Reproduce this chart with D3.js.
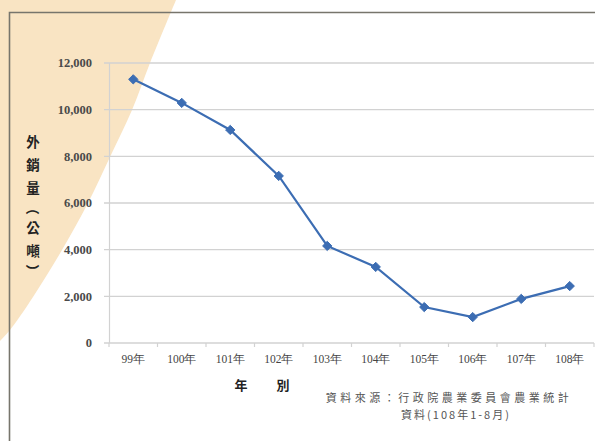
<!DOCTYPE html>
<html lang="zh-Hant">
<head>
<meta charset="UTF-8">
<title>外銷量</title>
<script src="https://d3js.org/d3.v7.min.js"></script>
<style>
  body { margin: 0; background: #fff; }
  svg { display: block; }
</style>
</head>
<body>
<svg width="595" height="441"></svg>
<script>
// data
const years = ["99年", "100年", "101年", "102年", "103年", "104年", "105年", "106年", "107年", "108年"];
const exportTons = [11300, 10290, 9130, 7160, 4160, 3260, 1540, 1110, 1890, 2440];
const yTicks = [0, 2000, 4000, 6000, 8000, 10000, 12000];
const yTitle = "外銷量（公噸）";
const xTitle = ["年", "別"];
const sourceLines = ["資料來源：行政院農業委員會農業統計", "資料(108年1-8月)"];

const svg = d3.select("svg");
const serif = "'Liberation Serif', 'DejaVu Serif', serif";
const cjk = "'Noto Sans CJK TC', 'Noto Sans CJK SC', sans-serif";

// beige corner decoration (curved edge)
const edge = [[0, 0], [176, 0], [150, 63], [132, 110], [110, 157], [88, 203], [62, 250], [33, 297], [10, 330], [0, 341]];
svg.append("path")
  .attr("d", "M0,0 " + d3.line().curve(d3.curveCatmullRom)(edge.slice(1)).replace(/^M/, "L") + " Z")
  .attr("fill", "#f9e4c3");

// frame lines (top + left)
svg.append("path")
  .attr("d", "M9.5,441 L9.5,12.5 L595,12.5")
  .attr("fill", "none")
  .attr("stroke", "#77756c")
  .attr("stroke-width", 1.6);

const x = d3.scaleBand().domain(years).range([109, 594]);
const y = d3.scaleLinear().domain([0, 12000]).range([343, 63]);

// gridlines
svg.append("g")
  .selectAll("line")
  .data(yTicks)
  .join("line")
  .attr("x1", 104)
  .attr("x2", 594)
  .attr("y1", d => y(d))
  .attr("y2", d => y(d))
  .attr("stroke", "#d2d2d2")
  .attr("stroke-width", 1.3);

// y axis line
svg.append("line")
  .attr("x1", 109.5).attr("x2", 109.5)
  .attr("y1", y(12000)).attr("y2", y(0))
  .attr("stroke", "#d2d2d2")
  .attr("stroke-width", 1.2);

// y tick labels
svg.append("g")
  .selectAll("text")
  .data(yTicks)
  .join("text")
  .attr("x", 92)
  .attr("y", d => y(d))
  .attr("dy", "0.35em")
  .attr("text-anchor", "end")
  .attr("font-family", serif)
  .attr("font-size", 12.5)
  .attr("font-weight", "bold")
  .attr("fill", "#4a4a4a")
  .text(d => d3.format(",")(d));

// x axis ticks between categories
svg.append("g")
  .selectAll("line")
  .data(years.concat(["end"]))
  .join("line")
  .attr("x1", (d, i) => x.range()[0] + i * x.step())
  .attr("x2", (d, i) => x.range()[0] + i * x.step())
  .attr("y1", y(0))
  .attr("y2", y(0) + 4)
  .attr("stroke", "#d2d2d2")
  .attr("stroke-width", 1.2);

// x tick labels
svg.append("g")
  .selectAll("text")
  .data(years)
  .join("text")
  .attr("x", d => x(d) + x.bandwidth() / 2)
  .attr("y", 363)
  .attr("text-anchor", "middle")
  .attr("font-family", serif)
  .attr("font-size", 11.5)
  .attr("fill", "#444")
  .text(d => d);

// x axis title
svg.append("g")
  .selectAll("text")
  .data(xTitle)
  .join("text")
  .attr("x", (d, i) => 241 + i * 42)
  .attr("y", 390)
  .attr("text-anchor", "middle")
  .attr("font-family", cjk)
  .attr("font-size", 13)
  .attr("font-weight", "bold")
  .attr("fill", "#222")
  .text(d => d);

// y axis title, stacked vertically; brackets turned sideways
const isParen = c => c === "（" || c === "）";
const yChars = Array.from(yTitle);
let cy = 142;
const yCharPos = yChars.map((c, i) => {
  if (i > 0) cy += (isParen(c) || isParen(yChars[i - 1])) ? 20 : 23;
  return { c, cy };
});
svg.append("g")
  .selectAll("text")
  .data(yCharPos)
  .join("text")
  .attr("transform", d => `translate(33,${d.cy})` + (isParen(d.c) ? " rotate(90)" : ""))
  .attr("dy", "0.36em")
  .attr("text-anchor", "middle")
  .attr("font-family", cjk)
  .attr("font-size", 13.5)
  .attr("font-weight", "bold")
  .attr("fill", "#222")
  .text(d => d.c);

// source note
svg.append("g")
  .selectAll("text")
  .data(sourceLines)
  .join("text")
  .attr("x", (d, i) => i === 0 ? 449 : 456)
  .attr("y", (d, i) => 402 + i * 17)
  .attr("text-anchor", "middle")
  .attr("font-family", cjk)
  .attr("font-size", 11)
  .attr("fill", "#555")
  .style("letter-spacing", (d, i) => i === 0 ? "3.5px" : "2px")
  .text(d => d);

// line series
const pts = years.map((yr, i) => ({ yr, v: exportTons[i] }));
svg.append("path")
  .datum(pts)
  .attr("fill", "none")
  .attr("stroke", "#3c6db3")
  .attr("stroke-width", 2.2)
  .attr("d", d3.line()
    .x(d => x(d.yr) + x.bandwidth() / 2)
    .y(d => y(d.v)));

svg.append("g")
  .selectAll("path")
  .data(pts)
  .join("path")
  .attr("transform", d => `translate(${x(d.yr) + x.bandwidth() / 2},${y(d.v)})`)
  .attr("d", d3.symbol().type(d3.symbolDiamond2).size(55))
  .attr("fill", "#3c6db3")
  .attr("stroke", "#3c6db3")
  .attr("stroke-width", 1);
</script>
</body>
</html>
